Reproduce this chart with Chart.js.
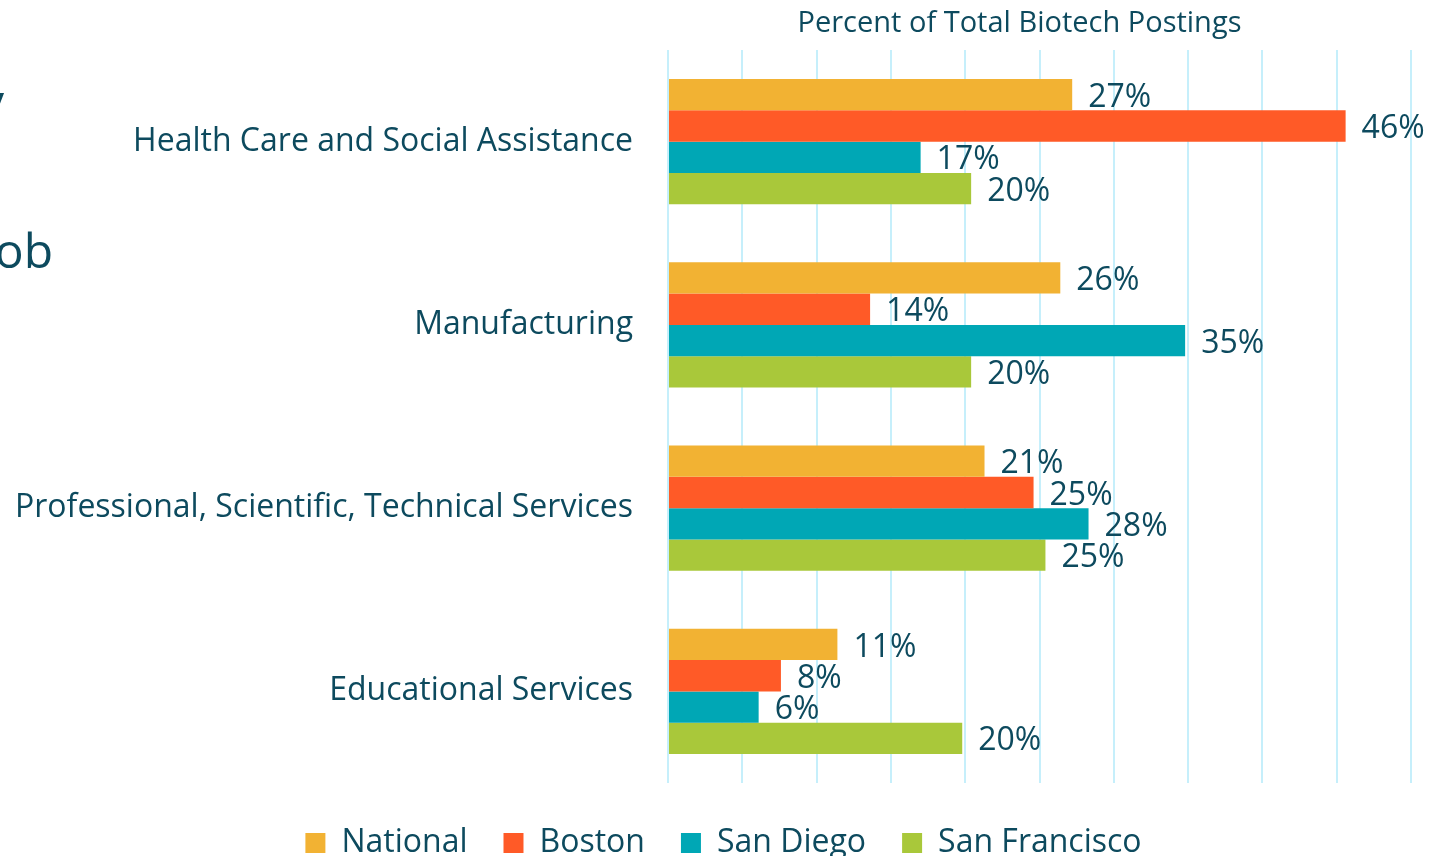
<!DOCTYPE html>
<html>
<head>
<meta charset="utf-8">
<script src="https://cdn.jsdelivr.net/npm/chart.js@4.4.1/dist/chart.umd.min.js"></script>
<style>
  html, body { margin: 0; padding: 0; background: #ffffff; overflow: hidden; }
  #wrap { position: relative; width: 1447px; height: 856px; }
  canvas { position: absolute; left: 0; top: 0; }
  .cut { position: absolute; font-family: "Open Sans", sans-serif; color: #0d4a5e; font-size: 48px; white-space: nowrap; }
  .cut span { position: absolute; right: 0; top: 0; }
</style>
</head>
<body>
<div id="wrap">
  <canvas id="c" width="1447" height="856"></canvas>
  <div class="cut" style="left:0; width:4px; top:68px;"><span>by</span></div>
  <div class="cut" style="left:0; width:53px; top:217px;"><span>Job</span></div>
</div>
<script>
const categories = [
  "Health Care and Social Assistance",
  "Manufacturing",
  "Professional, Scientific, Technical Services",
  "Educational Services"
];
const seriesNames = ["National", "Boston", "San Diego", "San Francisco"];
const nationalValues = [27.2, 26.4, 21.3, 11.4];
const bostonValues = [45.6, 13.6, 24.6, 7.6];
const sanDiegoValues = [17.0, 34.8, 28.3, 6.1];
const sanFranciscoValues = [20.4, 20.4, 25.4, 19.8];
const xTicks = [0, 5, 10, 15, 20, 25, 30, 35, 40, 45, 50];
const axisTitle = "Percent of Total Biotech Postings";

const colors = ["#f2b233", "#ff5a27", "#00a7b5", "#a9c83a"];
const textColor = "#0d4a5e";
const FONT = "'Open Sans', sans-serif";

const labelPlugin = {
  id: "barLabels",
  afterDatasetsDraw(chart) {
    const ctx = chart.ctx;
    ctx.save();
    ctx.font = "32px " + FONT;
    ctx.fillStyle = textColor;
    ctx.textAlign = "left";
    ctx.textBaseline = "middle";
    chart.data.datasets.forEach((ds, i) => {
      const meta = chart.getDatasetMeta(i);
      meta.data.forEach((bar, j) => {
        ctx.fillText(Math.round(ds.data[j]) + "%", bar.x + 16, bar.y + 3);
      });
    });
    ctx.restore();
  }
};

const axisTitlePlugin = {
  id: "axisTitle",
  afterDraw(chart) {
    const ctx = chart.ctx;
    const a = chart.chartArea;
    ctx.save();
    ctx.font = "29px " + FONT;
    ctx.fillStyle = textColor;
    ctx.textAlign = "center";
    ctx.textBaseline = "middle";
    ctx.fillText(axisTitle, (a.left + a.right) / 2 - 20, a.top - 26);
    ctx.restore();
  }
};

function noVertPad(scale) {
  scale.paddingTop = 0;
  scale.paddingBottom = 0;
}

new Chart(document.getElementById("c"), {
  type: "bar",
  data: {
    labels: categories,
    datasets: [
      { label: seriesNames[0], data: nationalValues, backgroundColor: colors[0] },
      { label: seriesNames[1], data: bostonValues, backgroundColor: colors[1] },
      { label: seriesNames[2], data: sanDiegoValues, backgroundColor: colors[2] },
      { label: seriesNames[3], data: sanFranciscoValues, backgroundColor: colors[3] }
    ]
  },
  options: {
    indexAxis: "y",
    responsive: false,
    animation: false,
    devicePixelRatio: 1,
    layout: { padding: { left: 0, right: 0, top: 50, bottom: -13 } },
    datasets: { bar: { categoryPercentage: 0.683, barPercentage: 1.0, borderWidth: 0 } },
    scales: {
      x: {
        position: "top",
        min: 0,
        max: 50,
        afterBuildTicks(scale) { scale.ticks = xTicks.map(v => ({ value: v })); },
        afterFit(scale) { scale.height = 0; scale.paddingLeft = 0; scale.paddingRight = 0; },
        ticks: { display: false },
        grid: { color: "#c6effb", lineWidth: 2, drawTicks: false },
        border: { display: false }
      },
      xSpacer: {
        type: "linear",
        position: "bottom",
        afterFit(scale) { scale.height = 8; scale.paddingLeft = 0; scale.paddingRight = 0; },
        grid: { display: false, drawTicks: false },
        border: { display: false },
        ticks: { display: false }
      },
      y: {
        afterFit(scale) { scale.width = 668; noVertPad(scale); },
        grid: { display: false, drawTicks: false },
        border: { display: false },
        ticks: {
          color: textColor,
          font: { family: FONT, size: 32 },
          padding: 35
        }
      },
      yRight: {
        type: "category",
        position: "right",
        afterFit(scale) { scale.width = 36; noVertPad(scale); },
        grid: { display: false, drawTicks: false },
        border: { display: false },
        ticks: { display: false }
      }
    },
    plugins: {
      legend: {
        position: "bottom",
        labels: {
          color: textColor,
          font: { family: FONT, size: 32 },
          boxWidth: 20,
          boxHeight: 20,
          padding: 36
        }
      },
      tooltip: { enabled: false }
    }
  },
  plugins: [labelPlugin, axisTitlePlugin]
});
</script>
</body>
</html>
